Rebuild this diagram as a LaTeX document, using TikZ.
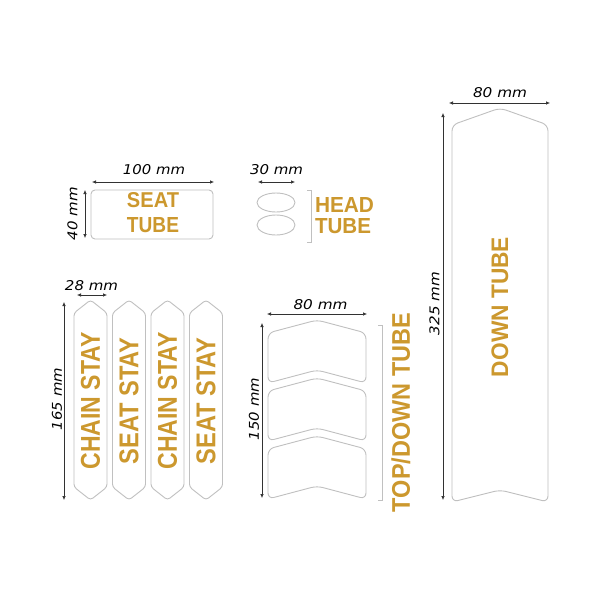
\documentclass[tikz,border=0pt]{standalone}
\usepackage{fontspec}
\usepackage{graphicx}
\usetikzlibrary{arrows.meta}
\newfontfamily\goldfont{Liberation Sans}
\newfontfamily\dimfont{DejaVu Sans}
\definecolor{gold}{RGB}{204,152,46}
\definecolor{outl}{RGB}{192,192,192}
\definecolor{dimc}{RGB}{50,50,50}
\newcommand{\gtext}[3]{\resizebox{#1pt}{#2pt}{\goldfont\bfseries #3}}
\newcommand{\dtext}[3]{\resizebox{#1pt}{#2pt}{\dimfont\itshape #3}}
\tikzset{
  piece/.style={draw=outl, line width=0.9pt, rounded corners=5pt},
  gtxt/.style={text=gold, inner sep=0pt, outer sep=0pt},
  dtxt/.style={text=black, inner sep=0pt, outer sep=0pt},
  dimline/.style={draw=dimc, line width=0.6pt, {Latex[length=4pt,width=3.5pt]}-{Latex[length=4pt,width=3.5pt]}},
  brack/.style={draw=outl, line width=0.9pt}
}
\begin{document}
\begin{tikzpicture}[x=1pt,y=-1pt]
\useasboundingbox (0,0) rectangle (600,600);
\fill[white] (0,0) rectangle (600,600);

% ---------- seat tube ----------
\draw[piece, rounded corners=4pt] (91,190) rectangle (213,239);
\node[gtxt] (seat1) at (153,200.5) {\gtext{52}{15}{SEAT}};
\node[gtxt] (seat2) at (153,225) {\gtext{52}{15}{TUBE}};
\draw[dimline] (92,182) -- (214,182);
\node[dtxt] (d100) at (154,170) {\dtext{62}{10}{100 mm}};
\draw[dimline] (85,190) -- (85,238);
\node[dtxt, rotate=90] (d40) at (72.5,213.5) {\dtext{53}{10}{40 mm}};

% ---------- head tube ----------
\draw[piece] (276,202.5) ellipse [x radius=19, y radius=9.5];
\draw[piece] (276,225) ellipse [x radius=19, y radius=10];
\draw[dimline] (258,182) -- (295,182);
\node[dtxt] (d30) at (276.5,170) {\dtext{53}{10}{30 mm}};
\draw[brack] (307,190) -- (311,190) -- (311,242) -- (307,242);
\node[gtxt, anchor=west] (head1) at (315,205) {\gtext{59}{15}{HEAD}};
\node[gtxt, anchor=west] (head2) at (315,226.5) {\gtext{56}{15}{TUBE}};

% ---------- stays ----------
\foreach \L/\txt/\w [count=\i] in {74/CHAIN STAY/137, 112.5/SEAT STAY/127, 151/CHAIN STAY/137, 189.5/SEAT STAY/127}{
  \pgfmathsetmacro{\R}{\L+33}
  \pgfmathsetmacro{\C}{\L+16.5}
  \draw[piece, rounded corners=3pt] (\C,300) -- (\R,313) -- (\R,487) -- (\C,500) -- (\L,487) -- (\L,313) -- cycle;
  \node[gtxt, rotate=90] (stay\i) at (\C,401) {\gtext{\w}{19}{\txt}};
}
\draw[dimline] (77,295) -- (107,295);
\node[dtxt] (d28) at (91.5,286) {\dtext{53}{10}{28 mm}};
\draw[dimline] (64,302) -- (64,500);
\node[dtxt, rotate=90] (d165) at (57,399) {\dtext{62}{10}{165 mm}};

% ---------- top/down tube chevrons ----------
\foreach \A [count=\i] in {320,378,436}{
  \draw[piece, rounded corners=6pt] (317,\A) -- (366,\A+13) -- (366,\A+63) -- (317,\A+50) -- (268,\A+63) -- (268,\A+13) -- cycle;
}
\draw[dimline] (267,314) -- (367,314);
\node[dtxt] (d80a) at (320.5,305) {\dtext{54}{10}{80 mm}};
\draw[dimline] (262,323) -- (262,498);
\node[dtxt, rotate=90] (d150) at (254,409) {\dtext{62}{10}{150 mm}};
\draw[brack] (378,325) -- (382.5,325) -- (382.5,500) -- (378,500);
\node[gtxt, rotate=90] (tdt) at (401,412.5) {\gtext{199}{18.5}{TOP/DOWN TUBE}};

% ---------- down tube ----------
\draw[piece, rounded corners=6pt] (500,108) -- (548,125) -- (548,502) -- (500,490) -- (452,502) -- (452,125) -- cycle;
\draw[dimline] (449,103) -- (550,103);
\node[dtxt] (d80b) at (500,93) {\dtext{54}{10}{80 mm}};
\draw[dimline] (443,113) -- (443,500);
\node[dtxt, rotate=90] (d325) at (434.5,303.5) {\dtext{63}{10}{325 mm}};
\node[gtxt, rotate=90] (dt) at (500,307) {\gtext{140}{16.7}{DOWN TUBE}};
\end{tikzpicture}
\end{document}
